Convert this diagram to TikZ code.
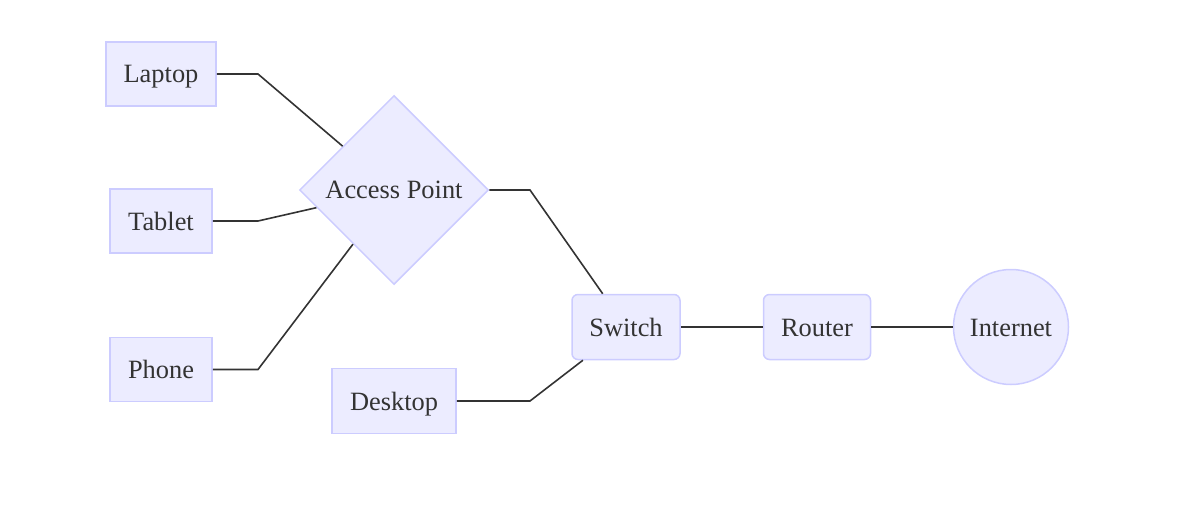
\documentclass[tikz,border=0pt]{standalone}
\usepackage{fontspec}
\setmainfont{Liberation Serif}
\usetikzlibrary{shapes.geometric}
\definecolor{nodefill}{HTML}{ECECFF}
\definecolor{nodeline}{HTML}{CCCCFF}
\definecolor{edgecol}{HTML}{333333}
\definecolor{txtcol}{HTML}{333333}
\tikzset{
  base/.style={draw=nodeline, fill=nodefill, line width=1.5pt, inner sep=0pt,
    text=txtcol, font=\fontsize{26.4}{30}\selectfont,
    text height=22.5pt, text depth=4.5pt},
  sqbox/.style={base, rectangle, minimum height=64pt},
  rbox/.style={base, rectangle, rounded corners=6pt, minimum height=65pt},
  dia/.style={base, diamond, minimum width=189pt, minimum height=189pt},
  circ/.style={base, circle, minimum size=115pt},
  edge/.style={draw=edgecol, line width=1.6pt}
}
\begin{document}
\begin{tikzpicture}[x=1pt,y=-1pt]
\useasboundingbox (0,0) rectangle (1200,508);
\node[sqbox, minimum width=110pt] (L) at (161,74) {Laptop};
\node[sqbox, minimum width=102pt] (T) at (161,221) {Tablet};
\node[sqbox, minimum width=102pt] (P) at (161,369.5) {Phone};
\node[dia] (AP) at (394,190) {Access Point};
\node[rbox, minimum width=108pt] (S) at (626,327) {Switch};
\node[sqbox, minimum width=124pt, minimum height=65pt] (D) at (394,401) {Desktop};
\node[rbox, minimum width=107pt] (R) at (817,327) {Router};
\node[circ] (I) at (1011,327) {Internet};
\coordinate (bL) at (258,74);
\coordinate (bT) at (258,221);
\coordinate (bP) at (258,369.5);
\coordinate (bA) at (530,190);
\coordinate (bD) at (530,401);
\draw[edge] (L.east) -- (bL) -- (AP);
\draw[edge] (T.east) -- (bT) -- (AP);
\draw[edge] (P.east) -- (bP) -- (AP);
\draw[edge] (AP) -- (bA) -- (S);
\draw[edge] (D.east) -- (bD) -- (S);
\draw[edge] (S) -- (R);
\draw[edge] (R) -- (I);
\end{tikzpicture}
\end{document}
